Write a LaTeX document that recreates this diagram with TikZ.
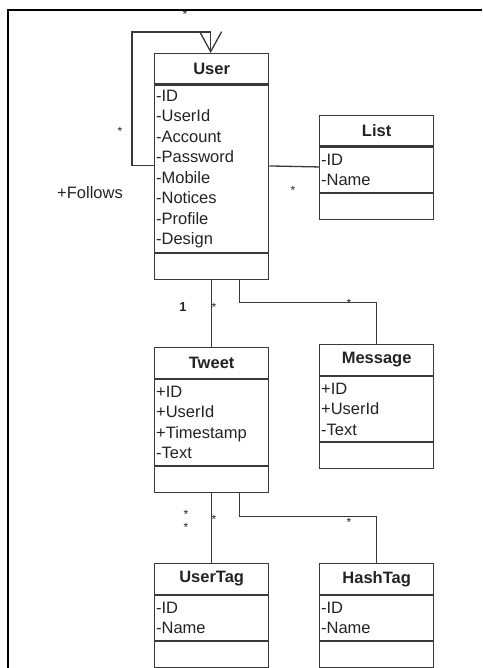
\documentclass[tikz,border=0pt]{standalone}
\usepackage{fontspec}
\setmainfont{Liberation Sans}
\definecolor{umlline}{RGB}{58,58,58}
\definecolor{umltext}{RGB}{35,35,35}
\usetikzlibrary{arrows.meta,positioning,calc}

\begin{document}
\begin{tikzpicture}[x=1pt,y=-1pt,color=umlline,line width=1.3pt,
  ctitle/.style={draw,minimum width=114pt,minimum height=30.5pt,inner sep=0pt,
    text=umltext,font=\fontsize{16.5}{20.5}\selectfont\bfseries,anchor=north west},
  cattr/.style={draw,text width=111pt,inner xsep=1.5pt,inner ysep=0pt,align=left,
    text=umltext,font=\fontsize{16.5}{20.5}\selectfont},
  cops/.style={draw,minimum width=114pt,minimum height=26pt,inner sep=0pt},
  mult/.style={text=umltext,font=\fontsize{12}{12}\selectfont,inner sep=0pt}]
  \useasboundingbox (0,0) rectangle (482,668);

  %% Frame
  \draw[black,line width=1.2pt] (482,10) -- (8,10) -- (8,668);

  %% User
  \node[ctitle] (user) at (154,53) {User};
  \node[cattr,minimum height=167pt,below=0pt of user] (user-attr)
    {-ID\\-UserId\\-Account\\-Password\\-Mobile\\-Notices\\-Profile\\-Design};
  \node[cops,below=0pt of user-attr] (user-ops) {};

  %% List
  \node[ctitle] (list) at (319,115) {List};
  \node[cattr,minimum height=45pt,below=0pt of list] (list-attr) {-ID\\-Name};
  \node[cops,below=0pt of list-attr] (list-ops) {};

  %% Tweet
  \node[ctitle] (tweet) at (154,347) {Tweet};
  \node[cattr,minimum height=86pt,below=0pt of tweet] (tweet-attr)
    {+ID\\+UserId\\+Timestamp\\-Text};
  \node[cops,below=0pt of tweet-attr] (tweet-ops) {};

  %% Message
  \node[ctitle] (message) at (319,344) {Message};
  \node[cattr,minimum height=65pt,below=0pt of message] (message-attr)
    {+ID\\+UserId\\-Text};
  \node[cops,below=0pt of message-attr] (message-ops) {};

  %% UserTag
  \node[ctitle] (usertag) at (154,563) {UserTag};
  \node[cattr,minimum height=45pt,below=0pt of usertag] (usertag-attr) {-ID\\-Name};
  \node[cops,below=0pt of usertag-attr] (usertag-ops) {};

  %% HashTag
  \node[ctitle] (hashtag) at (319,563) {HashTag};
  \node[cattr,minimum height=45pt,below=0pt of hashtag] (hashtag-attr) {-ID\\-Name};
  \node[cops,below=0pt of hashtag-attr] (hashtag-ops) {};

  %% Follows (self association)
  \draw[-{Straight Barb[length=20pt,width=22pt,line width=1.3pt]}]
    ($(user-attr.west)+(0,-3.5)$) -- ++(-22,0) |- ($(user.north)+(-1,-21)$)
    -- ($(user.north)+(-1,0)$);
  \node[mult] (m-follow-a) at (185,14) {*};
  \node[mult] (m-follow-b) at (120,131) {*};
  \node[text=umltext,font=\fontsize{16.5}{20.5}\selectfont,inner sep=0pt]
    (follows) at (90,193) {+Follows};

  %% User -- List
  \draw ($(user-attr.east)+(0,-3)$) -- ($(list-attr.west)+(0,-3)$);
  \node[mult] (m-list) at (293,190) {*};

  %% User -- Tweet
  \draw (user-ops.south) -- (tweet.north);
  \node[mult,font=\fontsize{13}{13}\selectfont\bfseries] (m-user-one) at (183,307) {1};
  \node[mult] (m-tweet) at (214,307) {*};

  %% User -- Message
  \draw ($(user-ops.south)+(28,0)$) -- ++(0,22) -| (message.north);
  \node[mult] (m-message) at (349,303) {*};

  %% Tweet -- UserTag
  \draw (tweet-ops.south) -- (usertag.north);
  \node[mult,align=center,font=\fontsize{12}{12.5}\selectfont] (m-tweet-ut) at (186,521) {*\\*};
  \node[mult] (m-usertag) at (214,519) {*};

  %% Tweet -- HashTag
  \draw ($(tweet-ops.south)+(28,0)$) -- ++(0,23) -| (hashtag.north);
  \node[mult] (m-hashtag) at (349,522) {*};
\end{tikzpicture}
\end{document}
